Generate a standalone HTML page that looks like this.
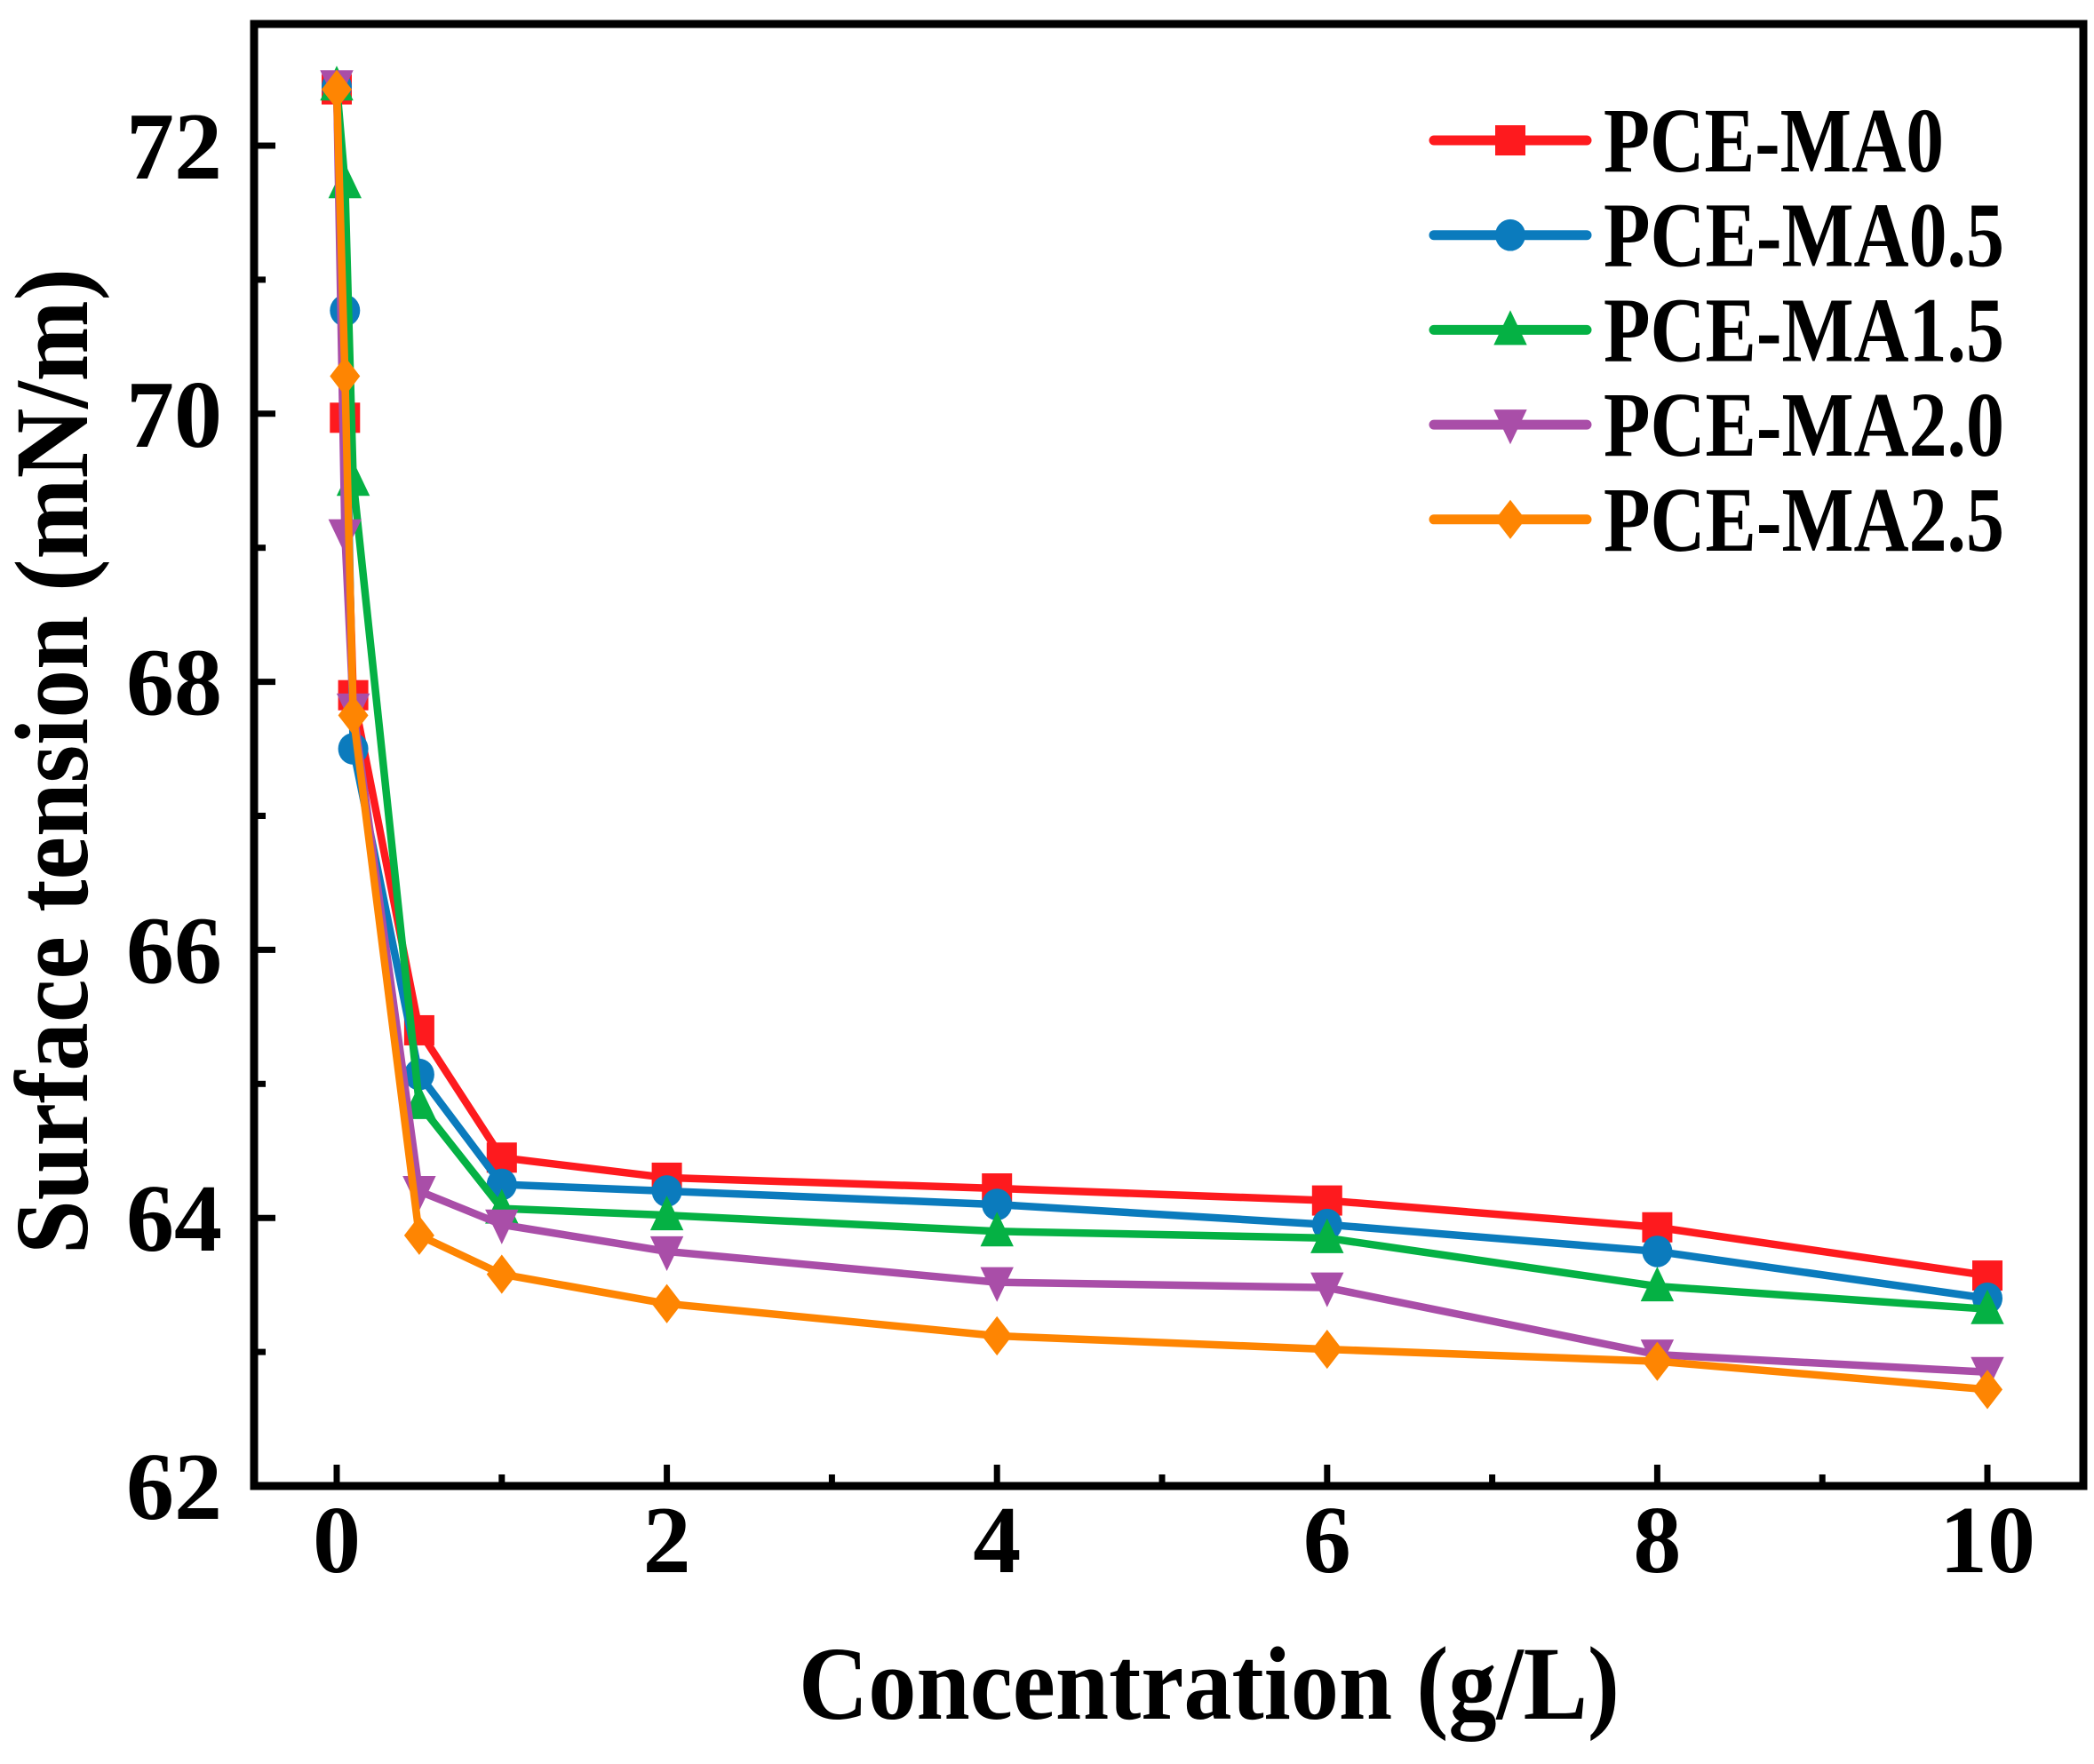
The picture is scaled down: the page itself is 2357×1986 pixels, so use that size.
<!DOCTYPE html>
<html><head><meta charset="utf-8"><style>
html,body{margin:0;padding:0;background:#fff}
svg{display:block}
text{font-family:"Liberation Serif",serif;font-weight:bold;fill:#000}
</style></head><body>
<svg id="s" width="2357" height="1986" viewBox="0 0 2357 1986" xmlns="http://www.w3.org/2000/svg">
<rect x="0" y="0" width="2357" height="1986" fill="#fff"/>
<g id="ticks"></g>
<g id="series"></g>
<rect x="286" y="27" width="2059" height="1646" fill="none" stroke="#000" stroke-width="9"/>
<g id="labels" font-size="108"></g>
<text x="1361" y="1935" font-size="118" text-anchor="middle" textLength="924" lengthAdjust="spacingAndGlyphs">Concentration (g/L)</text>
<text transform="translate(98,857) rotate(-90)" font-size="118" text-anchor="middle" textLength="1110" lengthAdjust="spacingAndGlyphs">Surface tension (mN/m)</text>
<g id="legend" font-size="104"></g>
</svg>
<script>
const NS="http://www.w3.org/2000/svg";
function el(p,t,a,txt){const e=document.createElementNS(NS,t);for(const k in a)e.setAttribute(k,a[k]);if(txt!==undefined)e.textContent=txt;document.getElementById(p).appendChild(e);return e;}
const X=x=>379+x*185.8, Y=y=>1673-(y-62)*150.9;
for(let i=0;i<=10;i++){const len=i%2==0?24:13;el("ticks","line",{x1:X(i),x2:X(i),y1:1673,y2:1673-len,stroke:"#000","stroke-width":7});}
for(let v=62;v<=72;v++){const len=v%2==0?24:13;el("ticks","line",{x1:286,x2:286+len,y1:Y(v),y2:Y(v),stroke:"#000","stroke-width":7});}
for(let i=0;i<=10;i+=2){el("labels","text",{x:X(i),y:1770,"text-anchor":"middle"},String(i));}
for(let v=62;v<=72;v+=2){el("labels","text",{x:250,y:Y(v)+37,"text-anchor":"end"},String(v));}
const xs=[0,0.05,0.1,0.5,1,2,4,6,8,10];
const S=[
 {c:"#fe1a1e",m:"sq",n:"PCE-MA0",w:383,d:[72.42,69.97,67.9,65.4,64.45,64.3,64.22,64.13,63.93,63.57]},
 {c:"#0b7bbd",m:"ci",n:"PCE-MA0.5",w:451,d:[72.44,70.77,67.5,65.07,64.25,64.2,64.1,63.95,63.75,63.4]},
 {c:"#05b144",m:"tu",n:"PCE-MA1.5",w:451,d:[72.45,71.72,69.5,64.85,64.07,64.02,63.9,63.85,63.49,63.32]},
 {c:"#a94ea8",m:"td",n:"PCE-MA2.0",w:451,d:[72.45,69.1,67.8,64.2,63.95,63.75,63.52,63.48,62.98,62.85]},
 {c:"#fe8502",m:"di",n:"PCE-MA2.5",w:451,d:[72.42,70.28,67.75,63.87,63.58,63.36,63.12,63.02,62.93,62.72]}
];
function marker(g,m,x,y,c){const r=17;
 if(m=="sq")el(g,"rect",{x:x-r,y:y-r,width:2*r,height:2*r,fill:c});
 else if(m=="ci")el(g,"ellipse",{cx:x,cy:y,rx:r,ry:r*1.05,fill:c});
 else if(m=="tu")el(g,"polygon",{points:`${x},${y-r*1.3} ${x+r*1.1},${y+r*1.0} ${x-r*1.1},${y+r*1.0}`,fill:c});
 else if(m=="td")el(g,"polygon",{points:`${x},${y+r*1.3} ${x+r*1.1},${y-r*1.0} ${x-r*1.1},${y-r*1.0}`,fill:c});
 else el(g,"polygon",{points:`${x},${y-r*1.3} ${x+r*1.0},${y} ${x},${y+r*1.3} ${x-r*1.0},${y}`,fill:c});
}
S.forEach((s,k)=>{
 el("series","polyline",{points:s.d.map((v,i)=>X(xs[i])+","+Y(v)).join(" "),fill:"none",stroke:s.c,"stroke-width":8.5,"stroke-linejoin":"round"});
 s.d.forEach((v,i)=>marker("series",s.m,X(xs[i]),Y(v),s.c));
 const ly=158+k*106.7;
 el("legend","line",{x1:1614,x2:1786,y1:ly,y2:ly,stroke:s.c,"stroke-width":11,"stroke-linecap":"round"});
 marker("legend",s.m,1700,ly,s.c);
 el("legend","text",{x:1805,y:ly+35,textLength:s.w,lengthAdjust:"spacingAndGlyphs"},s.n);
});
</script>
</body></html>
